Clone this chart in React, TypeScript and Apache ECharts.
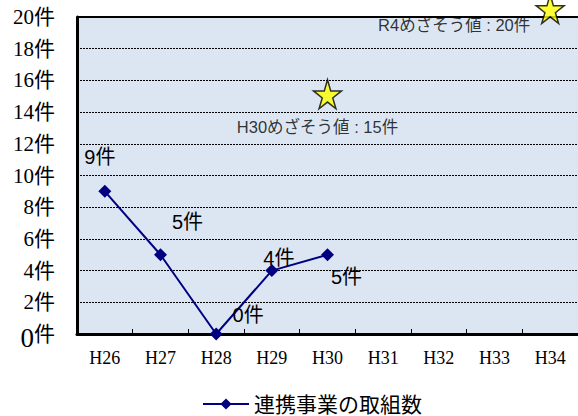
import React, { useEffect, useRef } from "react";
import * as echarts from "echarts";

const categories = ["H26", "H27", "H28", "H29", "H30", "H31", "H32", "H33", "H34"];
const seriesName = "連携事業の取組数";
const counts: (number | null)[] = [9, 5, 0, 4, 5, null, null, null, null];
const labelOffsets: [number, number][] = [[-5, -34], [27, -33], [32, -19], [7, -13], [19, 22]];
const targetNames = ["H30", "R4"];
const targetIndex = [4, 8];
const targetValues = [15, 20];

const SANS = "'Liberation Sans', Arial, 'Noto Sans CJK JP', sans-serif";
const SERIF = "'Liberation Serif', 'Times New Roman', 'Noto Sans CJK JP', serif";
const STAR = "path://M50,0 L61,35 L98,35 L68,57 L79,91 L50,70 L21,91 L32,57 L2,35 L39,35 Z";

export default function App() {
  const ref = useRef<HTMLDivElement>(null);
  useEffect(() => {
    const chart = echarts.init(ref.current!, null, { renderer: "svg" });
    const lineData = counts.map((v, i) =>
      v === null
        ? null
        : {
            value: v,
            label: {
              show: true,
              position: "inside",
              offset: labelOffsets[i],
              formatter: `${v}件`,
              color: "#000",
              fontSize: 20,
              fontFamily: SANS,
            },
          }
    );
    const starData = targetValues.map((v, i) => ({
      value: [targetIndex[i], v],
      symbolOffset: i === 1 ? [0, -8] : [0, -2],
      label: {
        show: true,
        position: "inside",
        offset: i === 1 ? [-96, 16] : [-10, 33],
        formatter: `${targetNames[i]}めざそう値 : ${v}件`,
        color: "#000",
        fontSize: 16.5,
        fontFamily: SANS,
      },
    }));
    chart.setOption({
      animation: false,
      backgroundColor: "#fff",
      grid: {
        left: 77,
        top: 17,
        width: 504,
        bottom: 82,
        show: true,
        backgroundColor: "#dce6f2",
        borderWidth: 0,
      },
      legend: {
        data: [seriesName],
        left: 197,
        top: 388,
        itemWidth: 46,
        itemHeight: 14,
        itemGap: 10,
        textStyle: { fontSize: 21, lineHeight: 22, color: "#000", fontFamily: SANS },
      },
      xAxis: {
        type: "category",
        data: categories,
        boundaryGap: true,
        axisLine: { show: true, lineStyle: { color: "#000", width: 3 } },
        axisTick: { show: true, inside: true, length: 5, lineStyle: { color: "#000", width: 1 } },
        axisLabel: { fontSize: 18, color: "#000", fontFamily: SERIF, margin: 15 },
        splitLine: { show: false },
      },
      yAxis: [
        {
          type: "value",
          min: 0,
          max: 20,
          interval: 2,
          axisLine: { show: true, lineStyle: { color: "#000", width: 3 } },
          axisTick: { show: false },
          axisLabel: {
            margin: 22,
            color: "#000",
            fontSize: 21,
            fontFamily: SERIF,
            formatter: (v: number) => (v === 0 ? "{z|0}{k|件}" : `${v}件`),
            rich: {
              z: { fontSize: 27, fontFamily: SERIF, color: "#000", padding: [8, 0, 0, 0] },
              k: { fontSize: 21, fontFamily: SERIF, color: "#000" },
            },
          },
          splitLine: { show: true, lineStyle: { color: "#000", width: 1, type: [2, 1] } },
        },
      ],
      series: [
        {
          name: seriesName,
          type: "line",
          data: lineData,
          symbol: "diamond",
          symbolSize: 13,
          connectNulls: false,
          clip: false,
          itemStyle: { color: "#000080" },
          lineStyle: { color: "#000080", width: 2 },
          z: 3,
        },
        {
          name: "めざそう値",
          type: "scatter",
          data: starData,
          symbol: STAR,
          symbolSize: [28, 29],
          clip: false,
          itemStyle: { color: "#ffff00", borderColor: "#000", borderWidth: 1.5 },
          z: 4,
        },
      ],
      graphic: [
        {
          type: "line",
          shape: { x1: 77, y1: 17, x2: 578, y2: 17 },
          style: { stroke: "#000", lineWidth: 2 },
          z: 1,
        },
      ],
    });
    return () => chart.dispose();
  }, []);
  return <div ref={ref} style={{ width: 578, height: 416, position: "absolute", left: 0, top: 0 }} />;
}
